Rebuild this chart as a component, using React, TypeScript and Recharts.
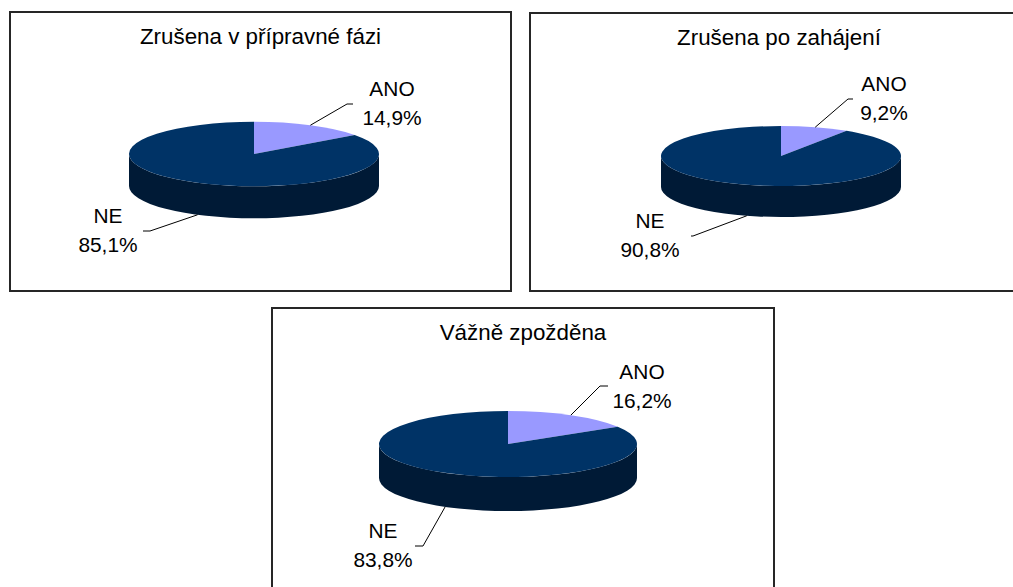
import { PieChart, Pie } from 'recharts'

const answers = ['ANO', 'NE']
const titles = ['Zrušena v přípravné fázi', 'Zrušena po zahájení', 'Vážně zpožděna']
const anoShare = [14.9, 9.2, 16.2]
const neShare = [85.1, 90.8, 83.8]

const topColors = ['#9999ff', '#003366']
const sideColors = ['#6b6bc0', '#001a36']
const font = '"Liberation Sans", Arial, sans-serif'

// panel boxes and label anchors, in each chart's own pixel space
const panels = [
  {
    left: 9, top: 11, width: 503, height: 281,
    cx: 245, cy: 143, rx: 125, tilt: 0.258, depth: 32,
    labels: [
      { elbow: [338, 93], end: 344, text: [383, 77] },
      { elbow: [141, 220], end: 134, text: [99, 204] },
    ],
  },
  {
    left: 529, top: 12, width: 500, height: 280,
    cx: 252, cy: 144, rx: 120, tilt: 0.25, depth: 31,
    labels: [
      { elbow: [319, 87], end: 324, text: [355, 71] },
      { elbow: [164, 224], end: 162, text: [121, 208] },
    ],
  },
  {
    left: 271, top: 307, width: 504, height: 290,
    cx: 237, cy: 137, rx: 129, tilt: 0.256, depth: 34,
    labels: [
      { elbow: [329, 79], end: 337, text: [371, 64] },
      { elbow: [152, 239], end: 144, text: [112, 223] },
    ],
  },
]

const rad = (a: number) => (a * Math.PI) / 180

function pt(cx: number, cy: number, rx: number, ry: number, a: number) {
  return [cx + rx * Math.cos(rad(a)), cy - ry * Math.sin(rad(a))]
}

function topPath(cx: number, cy: number, rx: number, ry: number, start: number, end: number) {
  const [x1, y1] = pt(cx, cy, rx, ry, start)
  const [x2, y2] = pt(cx, cy, rx, ry, end)
  const large = Math.abs(start - end) > 180 ? 1 : 0
  return `M${cx},${cy} L${x1},${y1} A${rx},${ry} 0 ${large} 1 ${x2},${y2} Z`
}

// front wall of a slice, only where it faces the viewer
function sidePaths(cx: number, cy: number, rx: number, ry: number, depth: number, start: number, end: number) {
  const out: string[] = []
  for (const k of [-1, 0, 1]) {
    const hi = Math.min(start, 360 * k)
    const lo = Math.max(end, 360 * k - 180)
    if (hi - lo < 0.01) continue
    const mid = (hi + lo) / 2
    const a = pt(cx, cy, rx, ry, hi)
    const b = pt(cx, cy, rx, ry, mid)
    const c = pt(cx, cy, rx, ry, lo)
    out.push(
      `M${a[0]},${a[1]} A${rx},${ry} 0 0 1 ${b[0]},${b[1]} A${rx},${ry} 0 0 1 ${c[0]},${c[1]}` +
        ` L${c[0]},${c[1] + depth} A${rx},${ry} 0 0 0 ${b[0]},${b[1] + depth} A${rx},${ry} 0 0 0 ${a[0]},${a[1] + depth} Z`
    )
  }
  return out
}

function faces(p: any) {
  return (props: any) => {
    const { cx, cy, outerRadius, startAngle, endAngle, index } = props
    const ry = outerRadius * p.tilt
    return (
      <g>
        {sidePaths(cx, cy, outerRadius, ry, p.depth, startAngle, endAngle).map((d, i) => (
          <path key={i} d={d} fill={sideColors[index]} />
        ))}
        <path d={topPath(cx, cy, outerRadius, ry, startAngle, endAngle)} fill={topColors[index]} />
      </g>
    )
  }
}

function labels(p: any) {
  return (props: any) => {
    const { cx, cy, outerRadius, midAngle, percent, name, index } = props
    const ry = outerRadius * p.tilt
    const s = Math.sin(rad(midAngle))
    const sx = cx + outerRadius * Math.cos(rad(midAngle))
    const sy = cy - ry * s + (s < 0 ? p.depth : 0)
    const L = p.labels[index]
    const pct = (percent * 100).toFixed(1).replace('.', ',') + '%'
    const [tx, ty] = L.text
    return (
      <g>
        <polyline
          points={`${sx},${sy} ${L.elbow[0]},${L.elbow[1]} ${L.end},${L.elbow[1]}`}
          fill="none"
          stroke="#000"
          strokeWidth={1}
        />
        <text transform={`translate(${tx} ${ty + 7.5}) scale(1.02 1)`} textAnchor="middle" fontSize={20.5} fontFamily={font} fill="#000">
          {name}
        </text>
        <text transform={`translate(${tx} ${ty + 36.5}) scale(1.02 1)`} textAnchor="middle" fontSize={20.5} fontFamily={font} fill="#000">
          {pct}
        </text>
      </g>
    )
  }
}

export default function App() {
  return (
    <div style={{ position: 'absolute', left: 0, top: 0, width: 1013, height: 587, overflow: 'hidden', background: '#fff' }}>
      {panels.map((p, i) => {
        const data = [
          { name: answers[0], value: anoShare[i] },
          { name: answers[1], value: neShare[i] },
        ]
        return (
          <div key={i} style={{ position: 'absolute', left: p.left, top: p.top, width: p.width, height: p.height }}>
            <PieChart width={p.width} height={p.height} margin={{ top: 0, right: 0, bottom: 0, left: 0 }}>
              <Pie
                data={data}
                dataKey="value"
                nameKey="name"
                cx={p.cx}
                cy={p.cy}
                outerRadius={p.rx}
                startAngle={90}
                endAngle={-270}
                fill="none"
                stroke="none"
                label={faces(p)}
                labelLine={false}
                isAnimationActive={false}
              />
              <Pie
                data={data}
                dataKey="value"
                nameKey="name"
                cx={p.cx}
                cy={p.cy}
                outerRadius={p.rx}
                startAngle={90}
                endAngle={-270}
                fill="none"
                stroke="none"
                label={labels(p)}
                labelLine={false}
                isAnimationActive={false}
              />
            </PieChart>
            <div
              style={{
                position: 'absolute',
                left: 0,
                top: 15.5,
                width: p.width,
                textAlign: 'center',
                fontFamily: font,
                fontSize: 21.5,
                lineHeight: '21.5px',
                transform: 'scaleX(1.04)',
                color: '#000',
              }}
            >
              {titles[i]}
            </div>
            <div
              style={{
                position: 'absolute',
                left: 0,
                top: 0,
                width: p.width,
                height: p.height,
                boxSizing: 'border-box',
                border: '2px solid #262626',
                pointerEvents: 'none',
              }}
            />
          </div>
        )
      })}
    </div>
  )
}
